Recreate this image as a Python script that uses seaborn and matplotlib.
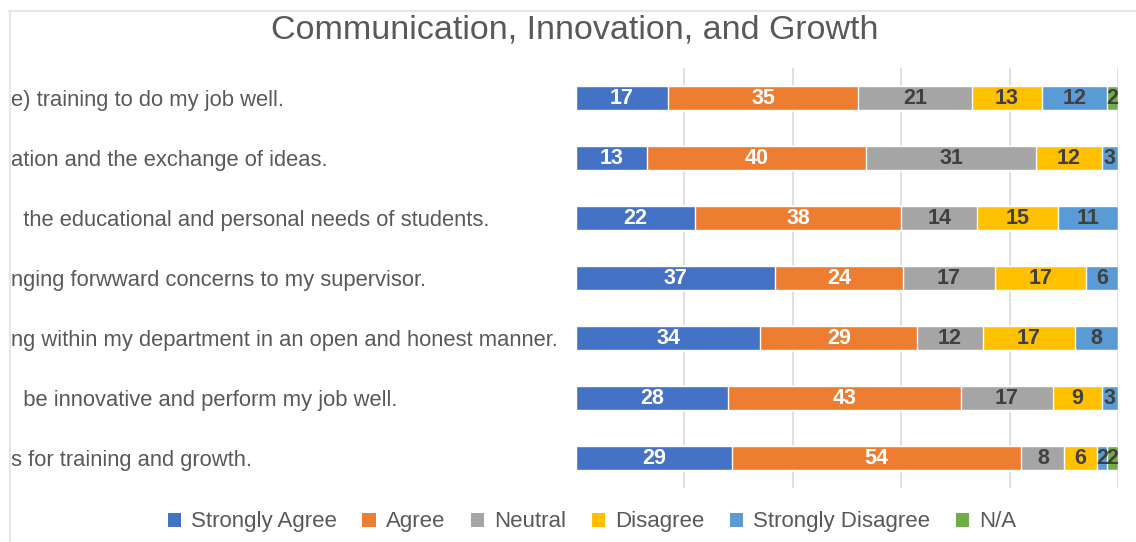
import numpy as np
import pandas as pd
import seaborn as sns
from matplotlib import pyplot as plt
from matplotlib.lines import Line2D
from matplotlib.patches import Patch

# Veriler
questions = [
    "e) training to do my job well.",
    "ation and the exchange of ideas.",
    "  the educational and personal needs of students.",
    "nging forwward concerns to my supervisor.",
    "ng within my department in an open and honest manner.",
    "  be innovative and perform my job well.",
    "s for training and growth.",
]
responses = ["Strongly Agree", "Agree", "Neutral", "Disagree", "Strongly Disagree", "N/A"]
strongly_agree = [17, 13, 22, 37, 34, 28, 29]
agree = [35, 40, 38, 24, 29, 43, 54]
neutral = [21, 31, 14, 17, 12, 17, 8]
disagree = [13, 12, 15, 17, 17, 9, 6]
strongly_disagree = [12, 3, 11, 6, 8, 3, 2]
not_applicable = [2, 0, 0, 0, 0, 0, 2]

colors = ["#4472C4", "#ED7D31", "#A5A5A5", "#FFC000", "#5B9BD5", "#70AD47"]
label_colors = ["white", "white", "#404040", "#404040", "#404040", "#404040"]

df = pd.DataFrame({
    "question": questions,
    "Strongly Agree": strongly_agree,
    "Agree": agree,
    "Neutral": neutral,
    "Disagree": disagree,
    "Strongly Disagree": strongly_disagree,
    "N/A": not_applicable,
})

# 100% stacked: satirlari normalize et, kumulatif toplamlari al
share = df[responses].div(df[responses].sum(axis=1), axis=0) * 100
cum = share.cumsum(axis=1)

sns.set_style("white")
plt.rcParams["font.family"] = ["Liberation Sans", "DejaVu Sans"]

fig = plt.figure(figsize=(11.36, 5.42), dpi=100)
ax = fig.add_axes([576 / 1136, 1 - 488 / 542, 542 / 1136, 420 / 542])

# Arkadan one dogru ciz (en uzun kumulatif bar en altta)
for i in range(len(responses) - 1, -1, -1):
    sns.barplot(x=cum[responses[i]], y=df["question"], orient="h",
                color=colors[i], width=0.4, saturation=1, ax=ax, zorder=2)

# Etiketler
for i, r in enumerate(responses):
    for j in range(len(df)):
        v = df[r].iloc[j]
        if v == 0:
            continue
        mid = cum[r].iloc[j] - share[r].iloc[j] / 2
        ax.text(mid, j, str(v), ha="center", va="center", fontsize=15.5,
                fontweight="bold", color=label_colors[i], zorder=3)

ax.set_xlim(0, 100)
ax.set_ylim(len(df) - 0.5, -0.5)
ax.set_xticks([20, 40, 60, 80, 100])
ax.set_xticklabels([])
ax.xaxis.grid(True, color="#d9d9d9", linewidth=1.2, zorder=0)
ax.set_axisbelow(True)
ax.set_xlabel("")
ax.set_ylabel("")
# soldan hizali soru etiketleri (baslari kesik)
ax.tick_params(axis="y", length=0, pad=(576 - 11) * 0.72, labelsize=15.8, labelcolor="#595959")
for lbl in ax.get_yticklabels():
    lbl.set_horizontalalignment("left")
ax.tick_params(axis="x", length=0)
for s in ax.spines.values():
    s.set_visible(False)

# Baslik
fig.text(0.506, 0.945, "Communication, Innovation, and Growth", ha="center", va="center",
         fontsize=24.5, color="#595959")

# Legend
handles = [Patch(facecolor=c, edgecolor="none") for c in colors]
fig.legend(handles, responses, loc="center", bbox_to_anchor=(0.521, 0.037), ncol=6,
           frameon=False, fontsize=16, labelcolor="#595959", handlelength=0.6,
           handleheight=0.6, handletextpad=0.45, columnspacing=1.15)

# Grafik cercevesi (ust ve sol kenar)
fig.add_artist(Line2D([9 / 1136, 1], [1 - 11 / 542] * 2, color="#e6e6e6", linewidth=1.5))
fig.add_artist(Line2D([10 / 1136] * 2, [0, 1 - 11 / 542], color="#e6e6e6", linewidth=1.5))

plt.savefig("out.png", dpi=100)
